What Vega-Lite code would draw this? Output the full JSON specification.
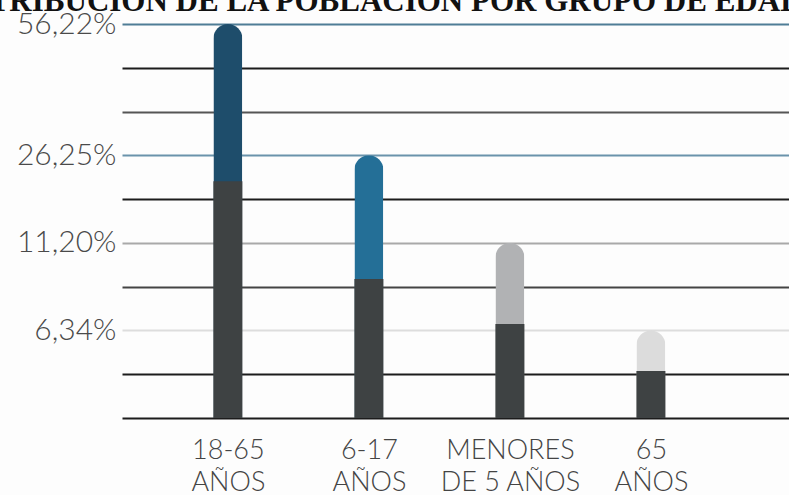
{
  "$schema": "https://vega.github.io/schema/vega-lite/v6.json",
  "width": 667,
  "height": 394,
  "autosize": {"type": "none"},
  "padding": {"left": 122, "top": 24, "right": 0, "bottom": 77},
  "background": "#fdfdfd",
  "title": {
    "text": "DISTRIBUCIÓN DE LA POBLACIÓN POR GRUPO DE EDAD",
    "font": "Liberation Serif",
    "fontSize": 31,
    "fontWeight": "bold",
    "color": "#111111",
    "anchor": "start",
    "frame": "group",
    "dx": -185,
    "baseline": "alphabetic",
    "offset": -33
  },
  "config": {"view": {"stroke": null}},
  "data": {
    "values": [
      {"grupo": "18-65 AÑOS", "porcentaje": 56.22, "base": 21.81},
      {"grupo": "6-17 AÑOS", "porcentaje": 26.25, "base": 9.2},
      {"grupo": "MENORES DE 5 AÑOS", "porcentaje": 11.2, "base": 6.7},
      {"grupo": "65 AÑOS", "porcentaje": 6.34, "base": 3.4}
    ]
  },
  "encoding": {
    "x": {
      "field": "grupo",
      "type": "nominal",
      "sort": null,
      "scale": {"type": "point", "padding": 0.865, "align": 0.434},
      "axis": {
        "title": null,
        "domain": false,
        "ticks": false,
        "labelAngle": 0,
        "labelFont": "Lato",
        "labelFontWeight": 300,
        "labelFontSize": 27,
        "labelColor": "#444444",
        "labelLineHeight": 32,
        "labelPadding": 19,
        "labelExpr": "datum.label == 'MENORES DE 5 AÑOS' ? ['MENORES', 'DE 5 AÑOS'] : split(datum.label, ' ')"
      }
    }
  },
  "layer": [
    {
      "mark": {"type": "bar", "width": 29, "cornerRadiusTopLeft": 14.5, "cornerRadiusTopRight": 14.5},
      "encoding": {
        "y": {
          "field": "porcentaje",
          "type": "quantitative",
          "scale": {"type": "linear", "domain": [0, 6.34, 11.2, 26.25, 56.22], "range": [394, 306.4, 218.9, 131.3, 0], "zero": false, "nice": false},
          "axis": {
            "title": null,
            "domain": false,
            "ticks": false,
            "grid": true,
            "gridWidth": 2,
            "gridColor": {
              "condition": [
                {"test": "datum.value == 56.22", "value": "#4f7d96"},
                {"test": "datum.value == 26.25", "value": "#6a93ab"},
                {"test": "datum.value == 11.2", "value": "#a9a9a9"},
                {"test": "datum.value == 6.34", "value": "#dddddd"},
                {"test": "datum.value == 36.24", "value": "#555555"},
                {"test": "datum.value == 8.77", "value": "#444444"}
              ],
              "value": "#1c1c1c"
            },
            "values": [0, 3.17, 6.34, 8.77, 11.2, 18.725, 26.25, 36.24, 46.23, 56.22],
            "labelExpr": "indexof([56.22, 26.25, 11.2, 6.34], datum.value) >= 0 ? replace(format(datum.value, '.2f'), '.', ',') + '%' : ''",
            "labelFont": "Lato",
            "labelFontWeight": 300,
            "labelFontSize": 30,
            "labelColor": "#4a4a4a",
            "labelPadding": 6,
            "labelOverlap": false,
            "labelBound": false,
            "labelFlush": false
          }
        },
        "color": {
          "field": "grupo",
          "type": "nominal",
          "scale": {
            "domain": ["18-65 AÑOS", "6-17 AÑOS", "MENORES DE 5 AÑOS", "65 AÑOS"],
            "range": ["#1e4d6b", "#246f97", "#b1b2b4", "#dcdcdc"]
          },
          "legend": null
        }
      }
    },
    {
      "mark": {"type": "bar", "width": 29, "color": "#3e4243"},
      "encoding": {
        "y": {"field": "base", "type": "quantitative"}
      }
    }
  ]
}
